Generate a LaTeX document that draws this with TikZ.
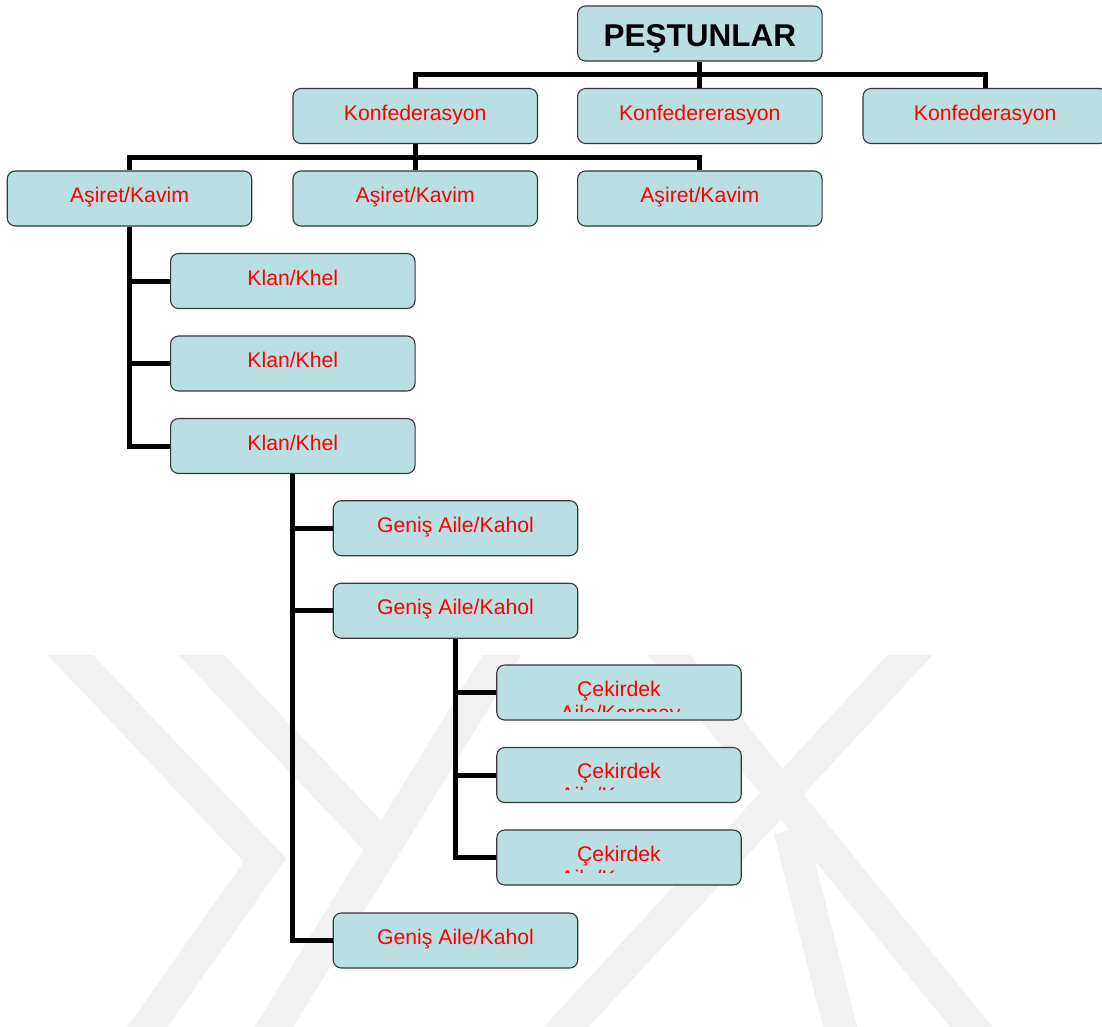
\documentclass[tikz,border=0pt]{standalone}
\usepackage{fontspec}
\setmainfont{Liberation Sans}
\usetikzlibrary{calc}
\definecolor{boxfill}{RGB}{185,223,226}
\definecolor{boxline}{RGB}{55,55,55}
\definecolor{wm}{RGB}{241,241,241}
\begin{document}
\begin{tikzpicture}[x=1pt,y=-1pt,
  box/.style={draw=boxline, line width=1.1pt, fill=boxfill, rounded corners=8pt,
    minimum width=244.5pt, minimum height=55pt, inner sep=0pt, text=red,
    font=\fontsize{21.2}{24}\selectfont, text height=14pt, text depth=6pt},
  ckbox/.style={box, text height=14pt, text depth=7pt},
  topbox/.style={box, text=black, font=\fontsize{31.5}{36}\selectfont\bfseries,
    text height=30pt, text depth=3.6pt},
  cktext/.style={anchor=base, inner sep=0pt, text=red, font=\fontsize{21.2}{24}\selectfont},
  conn/.style={draw=black, line width=5pt, line join=miter},
  wmband/.style={draw=wm, line width=33pt, line cap=butt, line join=miter}]
\useasboundingbox (0,0) rectangle (1102,1026);
\clip (0,0) rectangle (1102,1026);
\fill[white] (0,0) rectangle (1102,1026);

% faint watermark
\begin{scope}
  \clip (0,655) rectangle (1102,1026);
  \draw[wmband] (22,604) -- (265,860) -- (120,1066);
  \draw[wmband] (150,601) -- (375,838);
  \draw[wmband] (535,601) -- (250,1066);
  \draw[wmband] (960,601) -- (530,1066);
  \draw[wmband] (625,601) -- (1003,1066);
  \draw[wmband] (790,830) -- (850,1066);
\end{scope}

% boxes
\node[topbox] (pes) at (699.8,33.5) {PEŞTUNLAR};
\node[box] (k1) at (415.2,116) {Konfederasyon};
\node[box] (k2) at (699.8,116) {Konfedererasyon};
\node[box] (k3) at (985.2,116) {Konfederasyon};
\node[box] (a1) at (129.5,198.5) {Aşiret/Kavim};
\node[box] (a2) at (415.2,198.5) {Aşiret/Kavim};
\node[box] (a3) at (699.8,198.5) {Aşiret/Kavim};
\node[box] (l1) at (292.8,281) {Klan/Khel};
\node[box] (l2) at (292.8,363.5) {Klan/Khel};
\node[box] (l3) at (292.8,446) {Klan/Khel};
\node[box] (g1) at (455.5,528.2) {Geniş Aile/Kahol};
\node[box] (g2) at (455.5,610.7) {Geniş Aile/Kahol};
\node[box] (g3) at (455.5,940.5) {Geniş Aile/Kahol};
\node[ckbox] (c1) at (619,692.5) {Çekirdek};
\node[ckbox] (c2) at (619,775) {Çekirdek};
\node[ckbox] (c3) at (619,857.5) {Çekirdek};

% clipped second lines
\begin{scope}
  \clip (c1.north west) rectangle ($(c1.north east)+(0,47)$);
  \node[cktext] (c1b) at ($(c1.north)+(1.5,56.5)$) {Aile/Koranay};
\end{scope}
\begin{scope}
  \clip (c2.north west) rectangle ($(c2.north east)+(0,43)$);
  \node[cktext] (c2b) at ($(c2.north)+(1.5,55.8)$) {Aile/Koranay};
\end{scope}
\begin{scope}
  \clip (c3.north west) rectangle ($(c3.north east)+(0,43)$);
  \node[cktext] (c3b) at ($(c3.north)+(1.5,55.8)$) {Aile/Koranay};
\end{scope}

% connectors
\coordinate (b1) at (699.8,74.5);
\coordinate (b2) at (415.2,157);
\draw[conn] (pes.south) -- (b1) -| (k1.north);
\draw[conn] (b1) -| (k3.north);
\draw[conn] (b1) -- (k2.north);
\draw[conn] (k1.south) -- (b2) -| (a1.north);
\draw[conn] (b2) -| (a3.north);
\draw[conn] (b2) -- (a2.north);
\draw[conn] (a1.south) |- (l1.west);
\draw[conn] (a1.south) |- (l2.west);
\draw[conn] (a1.south) |- (l3.west);
\draw[conn] (l3.south) |- (g1.west);
\draw[conn] (l3.south) |- (g2.west);
\draw[conn] (l3.south) |- (g3.west);
\draw[conn] (g2.south) |- (c1.west);
\draw[conn] (g2.south) |- (c2.west);
\draw[conn] (g2.south) |- (c3.west);
\end{tikzpicture}
\end{document}
